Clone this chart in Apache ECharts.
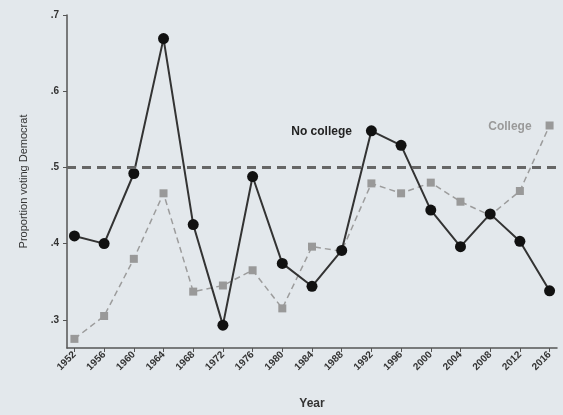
<!DOCTYPE html>
<html>
<head>
<meta charset="utf-8">
<script src="https://cdn.jsdelivr.net/npm/echarts@6/dist/echarts.min.js"></script>
<style>
html,body{margin:0;padding:0;background:#e3e8ec;}
#c{width:563px;height:415px;}
</style>
</head>
<body>
<div id="c"></div>
<script>
var years = [1952,1956,1960,1964,1968,1972,1976,1980,1984,1988,1992,1996,2000,2004,2008,2012,2016];
var noCollege = [0.410,0.400,0.492,0.669,0.425,0.293,0.488,0.374,0.344,0.391,0.548,0.529,0.444,0.396,0.439,0.403,0.338];
var college = [0.275,0.305,0.380,0.466,0.337,0.345,0.365,0.315,0.396,0.390,0.479,0.466,0.480,0.455,0.437,0.469,0.555];
var yTicks = [0.3,0.4,0.5,0.6,0.7];
var refLine = 0.5;
var noCollegeLabel = 'No college';
var noCollegeLabelYear = 1992;
var collegeLabel = 'College';
var collegeLabelYear = 2016;

function buildData(vals, labelYear, labelText, color) {
  return years.map(function (y, i) {
    var d = { value: [y, vals[i]] };
    if (y === labelYear) {
      d.label = {
        show: true, position: 'left', distance: 14, formatter: labelText,
        color: color, fontSize: 12, fontWeight: 'bold', fontFamily: 'Liberation Sans', offset: [0, 1]
      };
    }
    return d;
  });
}

var chart = echarts.init(document.getElementById('c'));
chart.setOption({
  backgroundColor: '#e3e8ec',
  animation: false,
  grid: { left: 67, top: 15, right: 6, bottom: 66 },
  xAxis: {
    type: 'value', min: 1951, max: 2017,
    name: 'Year', nameLocation: 'middle', nameGap: 50,
    nameTextStyle: { color: '#333', fontSize: 12, fontWeight: 'bold', fontFamily: 'Liberation Sans' },
    axisLine: { lineStyle: { color: '#555', width: 1.5 } },
    axisTick: { show: true, length: 4, customValues: years, lineStyle: { color: '#555' } },
    axisLabel: {
      customValues: years, rotate: 45, color: '#333', fontSize: 10, fontWeight: 'bold',
      fontFamily: 'Liberation Sans', margin: 5,
      formatter: function (v) { return String(v); }
    },
    splitLine: { show: false }
  },
  yAxis: {
    type: 'value', min: 0.263, max: 0.7,
    name: 'Proportion voting Democrat', nameLocation: 'middle', nameGap: 38,
    nameTextStyle: { color: '#333', fontSize: 11, fontFamily: 'Liberation Sans' },
    axisLine: { show: true, lineStyle: { color: '#555', width: 1.5 } },
    axisTick: { show: true, length: 4, customValues: yTicks, lineStyle: { color: '#555' } },
    axisLabel: {
      customValues: yTicks, color: '#333', fontSize: 10, fontWeight: 'bold', fontFamily: 'Liberation Sans', margin: 8,
      formatter: function (v) { return '.' + Math.round(v * 10); }
    },
    splitLine: { show: false }
  },
  series: [
    {
      type: 'line', name: 'College',
      data: buildData(college, collegeLabelYear, collegeLabel, '#9a9a9a'),
      symbol: 'rect', symbolSize: 8,
      itemStyle: { color: '#999' },
      lineStyle: { color: '#9c9c9c', width: 1.5, type: [6, 4] },
      z: 2,
      markLine: {
        silent: true, symbol: 'none', label: { show: false },
        lineStyle: { color: '#666', width: 3, type: [9, 6] },
        data: [{ yAxis: refLine }]
      }
    },
    {
      type: 'line', name: 'No college',
      data: buildData(noCollege, noCollegeLabelYear, noCollegeLabel, '#222'),
      symbol: 'circle', symbolSize: 11,
      itemStyle: { color: '#111' },
      lineStyle: { color: '#333', width: 2 },
      z: 3
    }
  ]
});
</script>
</body>
</html>
